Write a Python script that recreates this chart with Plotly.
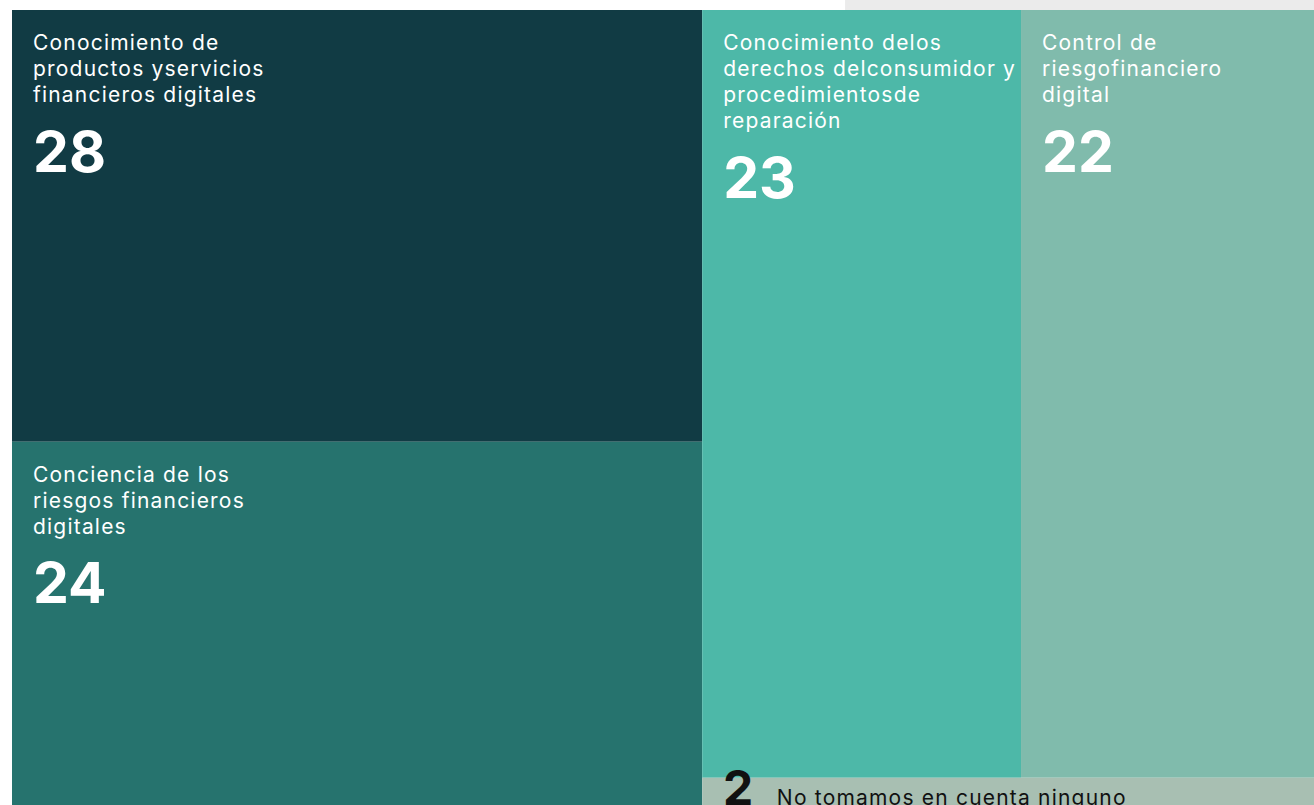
import plotly.graph_objects as go

# ---- data ----
labels = [
    "Conocimiento de productos yservicios financieros digitales",
    "Conciencia de los riesgos financieros digitales",
    "Conocimiento delos derechos delconsumidor y procedimientosde reparación",
    "Control de riesgofinanciero digital",
    "No tomamos en cuenta ninguno",
]
label_lines = [
    ["Conocimiento de", "productos yservicios", "financieros digitales"],
    ["Conciencia de los", "riesgos financieros", "digitales"],
    ["Conocimiento delos", "derechos delconsumidor y", "procedimientosde", "reparación"],
    ["Control de", "riesgofinanciero", "digital"],
    ["No tomamos en cuenta ninguno"],
]
values = [28, 24, 23, 22, 2]
colors = ["#113B44", "#26736E", "#4DB8A8", "#80BBAC", "#A8BFB2"]
text_colors = ["#FFFFFF", "#FFFFFF", "#FFFFFF", "#FFFFFF", "#111111"]

FONT = "Inter"
PAD = "<span style='font-size:16px'>&nbsp;&nbsp;&nbsp;&nbsp;</span>"
TOP = "<span style='font-size:11px'>&nbsp;</span>"
LBL = "<span style='font-size:21px;letter-spacing:1.2px'>{}</span>"
NUM = "<span style='font-size:57px;font-weight:bold'>{}</span>"

# ---- text for each tile (small tiles get an outside label) ----
texts = []
small = []
for i, (lines, v) in enumerate(zip(label_lines, values)):
    if v < 5:
        texts.append("")
        small.append(i)
    else:
        body = "<br>".join(PAD + LBL.format(ln) for ln in lines)
        num = PAD + "<sup>" + NUM.format(v) + "</sup>"
        texts.append(TOP + "<br>" + body + "<br><br><br>" + num)

fig = go.Figure(
    go.Treemap(
        labels=labels,
        parents=[""] * len(labels),
        values=values,
        text=texts,
        textinfo="text",
        textposition="top left",
        textfont=dict(family=FONT, size=20, color=text_colors),
        marker=dict(colors=colors, line=dict(width=0), pad=dict(t=0, l=0, r=0, b=0)),
        tiling=dict(packing="squarify", squarifyratio=1.618, pad=0),
        pathbar=dict(visible=False),
        sort=True,
        hoverinfo="label+value",
    )
)

# label for the thin strip, placed at the strip's top-left corner
total = sum(values)
annotations = []
for i in small:
    x_left = sum(values[:2]) / total
    y_top = values[i] / sum(values[2:])
    annotations.append(dict(
        xref="paper", yref="paper", x=x_left, y=y_top,
        xanchor="left", yanchor="top", xshift=20, yshift=21,
        showarrow=False, borderpad=0, align="left",
        text="<span style='font-size:48px;font-weight:bold'>" + str(values[i]) + "</span>"
             + "<span style='font-size:21px'>&nbsp;&nbsp;&nbsp;&nbsp;</span>"
             + LBL.format(label_lines[i][0]),
        font=dict(family=FONT, size=20, color=text_colors[i]),
    ))

fig.update_layout(
    width=1326,
    height=812,
    margin=dict(l=12, t=10, r=0, b=0),
    paper_bgcolor="#FFFFFF",
    uniformtext=dict(minsize=20, mode="show"),
    annotations=annotations,
    shapes=[
        dict(type="rect", xref="paper", yref="paper",
             x0=0.634, x1=1.0, y0=1.0, y1=1.0125,
             fillcolor="#EBEBEB", line=dict(width=0), layer="below"),
    ],
)

fig.write_html(
    "out.html",
    config={"displayModeBar": False},
    post_script="document.body.style.margin='0';document.body.style.overflow='hidden';",
)
